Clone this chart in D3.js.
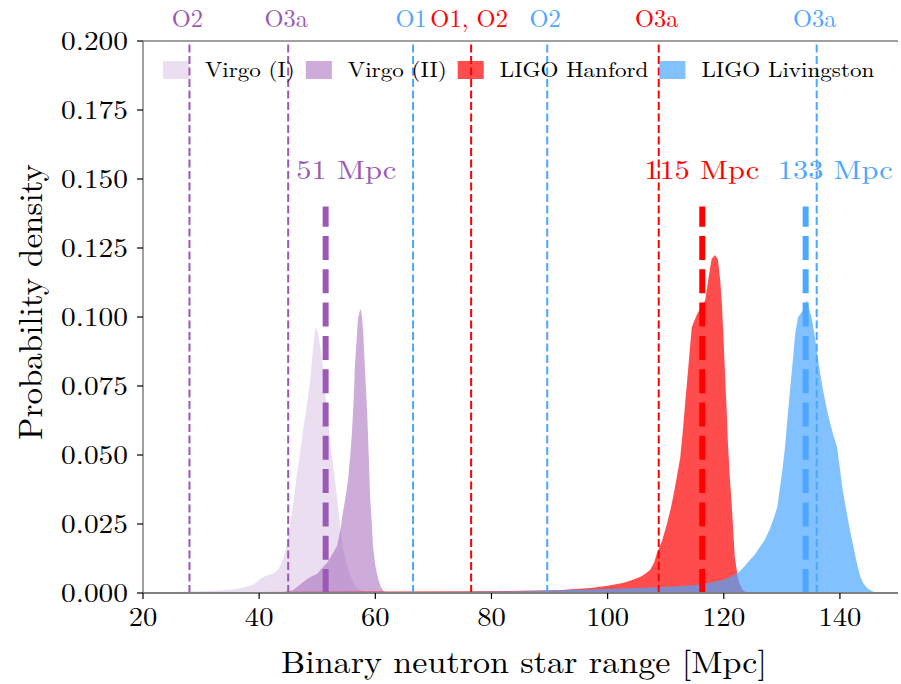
<!DOCTYPE html>
<html><head><meta charset="utf-8">
<script src="https://cdn.jsdelivr.net/npm/d3@7"></script>
<style>body{margin:0;background:#fff}svg{display:block}</style>
</head><body><svg id="c" width="901" height="684"></svg>
<script>
// ---- data ----
const virgoI = [[20,0],[24,0.0003],[28,0.0005],[32,0.0008],[35,0.0012],[37,0.0018],[39,0.003],[40.5,0.0055],[41.5,0.0065],[42.5,0.0072],[43.3,0.0085],[44.1,0.012],[44.7,0.017],[45.3,0.024],[45.9,0.033],[46.5,0.043],[47,0.05],[47.5,0.058],[48.2,0.068],[48.8,0.077],[49.2,0.087],[49.6,0.095],[49.8,0.0965],[50.2,0.093],[50.8,0.0855],[51.5,0.07],[52.2,0.055],[52.8,0.045],[53.4,0.035],[53.9,0.025],[54.4,0.0167],[55,0.011],[55.6,0.007],[56.2,0.004],[56.8,0.002],[57.5,0.001],[58.5,0.0003],[60,0]];
const virgoII = [[40,0],[44,0.0003],[45.8,0.001],[47,0.003],[48.2,0.005],[49,0.006],[50,0.007],[50.8,0.009],[51.7,0.011],[52.6,0.014],[53.4,0.017],[54,0.023],[54.4,0.029],[54.9,0.035],[55.3,0.041],[55.7,0.05],[56,0.059],[56.3,0.071],[56.5,0.083],[56.8,0.092],[57,0.099],[57.3,0.102],[57.5,0.1029],[57.7,0.1],[57.9,0.095],[58.2,0.082],[58.6,0.065],[58.9,0.048],[59.1,0.035],[59.4,0.025],[59.6,0.017],[60,0.01],[60.5,0.005],[61,0.002],[61.5,0.0005],[63,0]];
const hanford = [[20,0.0003],[40,0.0004],[60,0.0005],[75,0.0006],[85,0.0008],[92,0.0011],[97,0.0018],[100,0.0026],[102.6,0.0036],[104,0.0045],[105.6,0.0058],[106.5,0.007],[107.3,0.0083],[108,0.011],[108.5,0.0145],[109.4,0.019],[110.2,0.025],[110.8,0.03],[111.3,0.035],[112,0.043],[112.5,0.049],[113,0.06],[113.4,0.07],[113.7,0.077],[114.1,0.087],[114.5,0.0964],[115,0.099],[115.4,0.101],[116.2,0.104],[116.8,0.106],[117.3,0.113],[117.9,0.121],[118.5,0.1225],[119,0.1207],[119.4,0.113],[119.7,0.104],[120,0.09],[120.2,0.08],[120.5,0.066],[120.7,0.055],[121,0.043],[121.4,0.031],[121.7,0.02],[121.9,0.013],[122.4,0.0058],[122.8,0.003],[123.3,0.001],[124,0.0002],[126,0]];
const livingston = [[20,0.0002],[50,0.0003],[70,0.0004],[85,0.0006],[97,0.0013],[105,0.0018],[110,0.0022],[115.9,0.003],[119.9,0.0047],[122.4,0.0072],[123.5,0.0095],[124.5,0.012],[125.4,0.014],[126.2,0.0167],[127,0.019],[127.9,0.023],[128.6,0.027],[129.2,0.031],[129.6,0.037],[130,0.043],[130.5,0.052],[130.9,0.0616],[131.3,0.071],[131.7,0.08],[132,0.087],[132.3,0.094],[132.8,0.1],[133.5,0.102],[134.3,0.106],[134.7,0.103],[135.2,0.099],[135.6,0.094],[136,0.088],[136.5,0.081],[137.1,0.0735],[137.7,0.067],[138.3,0.0616],[138.9,0.057],[139.5,0.053],[140,0.045],[140.5,0.037],[141.1,0.03],[141.7,0.023],[142.3,0.017],[142.9,0.011],[143.5,0.006],[144,0.0036],[144.6,0.002],[145.2,0.001],[146,0.0003],[147,0]];

const seriesNames = ["Virgo (I)", "Virgo (II)", "LIGO Hanford", "LIGO Livingston"];
const virgoRuns = [{label:"O2", x:28}, {label:"O3a", x:45}];
const livingstonRuns = [{label:"O1", x:66.5}, {label:"O2", x:89.6}, {label:"O3a", x:136}];
const hanfordRuns = [{label:"O1, O2", x:76.5}, {label:"O3a", x:108.8}];
const medians = [
  {label:"51 Mpc", x:51.45, labelX:55},
  {label:"115 Mpc", x:116.3, labelX:116.2},
  {label:"133 Mpc", x:134.1, labelX:139.2}
];
const xTicks = [20,40,60,80,100,120,140];
const yTicks = [0,0.025,0.05,0.075,0.1,0.125,0.15,0.175,0.2];

// ---- styles ----
const PURPLE = "#9b59b6", RED = "#ff0000", BLUE = "#4da6ff";
const SX = 1.1;
const FONT = "'Latin Modern Roman', 'CMU Serif', 'Liberation Serif', serif";

const svg = d3.select("#c");
const x = d3.scaleLinear().domain([20,150]).range([143,898]);
const y = d3.scaleLinear().domain([0,0.2]).range([593,41]);

function txt(s, tx, ty, size, color, anchor, sx) {
  return svg.append("text")
    .attr("transform", `translate(${tx},${ty}) scale(${sx || SX},1)`)
    .style("font-family", FONT)
    .attr("font-size", size).attr("fill", color || "#000")
    .attr("text-anchor", anchor || "middle").text(s);
}

// histograms
const area = d3.area().x(d => x(d[0])).y0(y(0)).y1(d => y(d[1])).curve(d3.curveLinear);
const fills = [
  {data: virgoI, color: PURPLE, op: 0.2},
  {data: virgoII, color: PURPLE, op: 0.5},
  {data: hanford, color: RED, op: 0.7},
  {data: livingston, color: BLUE, op: 0.7}
];
svg.append("defs").append("clipPath").attr("id","clip").append("rect")
  .attr("x",143).attr("y",41).attr("width",755).attr("height",552);
const plot = svg.append("g").attr("clip-path","url(#clip)");
fills.forEach(f => plot.append("path").datum(f.data).attr("d", area).attr("fill", f.color).attr("fill-opacity", f.op));

// run reference lines
function runLines(runs, color) {
  runs.forEach(r => {
    svg.append("line").attr("x1", x(r.x)).attr("x2", x(r.x)).attr("y1", y(0)).attr("y2", y(0.2))
      .attr("stroke", color).attr("stroke-width", 2).attr("stroke-dasharray", "8,3.5");
    txt(r.label, x(r.x) - 2, 27, 24.5, color, "middle", 1.0);
  });
}
runLines(virgoRuns, PURPLE);
runLines(livingstonRuns, BLUE);
runLines(hanfordRuns, RED);

// medians
const medColors = [PURPLE, RED, BLUE];
medians.forEach((m, i) => {
  svg.append("line").attr("x1", x(m.x)).attr("x2", x(m.x)).attr("y1", y(0)).attr("y2", y(0.14))
    .attr("stroke", medColors[i]).attr("stroke-width", 6).attr("stroke-dasharray", "24,9.3");
  txt(m.label, x(m.labelX), y(0.15), 26.5, medColors[i], "middle", 1.15);
});

// spines
svg.append("line").attr("x1",143).attr("x2",898).attr("y1",41).attr("y2",41).attr("stroke","#808080").attr("stroke-width",1.5);
svg.append("line").attr("x1",143).attr("x2",143).attr("y1",41).attr("y2",593).attr("stroke","#808080").attr("stroke-width",1.5);
svg.append("line").attr("x1",143).attr("x2",898).attr("y1",593).attr("y2",593).attr("stroke","#808080").attr("stroke-width",2);

// ticks
yTicks.forEach(t => {
  svg.append("line").attr("x1",137).attr("x2",143).attr("y1",y(t)).attr("y2",y(t)).attr("stroke","#000").attr("stroke-width",1.2);
  txt(d3.format(".3f")(t), 128, y(t) + 9, 26, "#000", "end", 1.13);
});
xTicks.forEach(t => {
  svg.append("line").attr("x1",x(t)).attr("x2",x(t)).attr("y1",593).attr("y2",599).attr("stroke","#000").attr("stroke-width",1.2);
  txt(String(t), x(t), 626, 26, "#000", "middle", 1.1);
});

// axis titles
txt("Binary neutron star range [Mpc]", 524, 673, 31, "#000", "middle", 1.1);
svg.append("text").attr("transform", "translate(42,302) rotate(-90)")
  .style("font-family", FONT)
  .attr("font-size", 33).attr("text-anchor","middle").text("Probability density");

// legend
const legColors = [[PURPLE,0.2],[PURPLE,0.5],[RED,0.7],[BLUE,0.7]];
let lx = 163;
seriesNames.forEach((n, i) => {
  svg.append("rect").attr("x", lx).attr("y", 61).attr("width", 26).attr("height", 18)
    .attr("fill", legColors[i][0]).attr("fill-opacity", legColors[i][1]);
  const t = txt(n, lx + 42, 77, 21, "#000", "start", 1.1);
  const w = t.node().getComputedTextLength() * SX;
  lx = lx + 42 + w + 11;
});
</script></body></html>
